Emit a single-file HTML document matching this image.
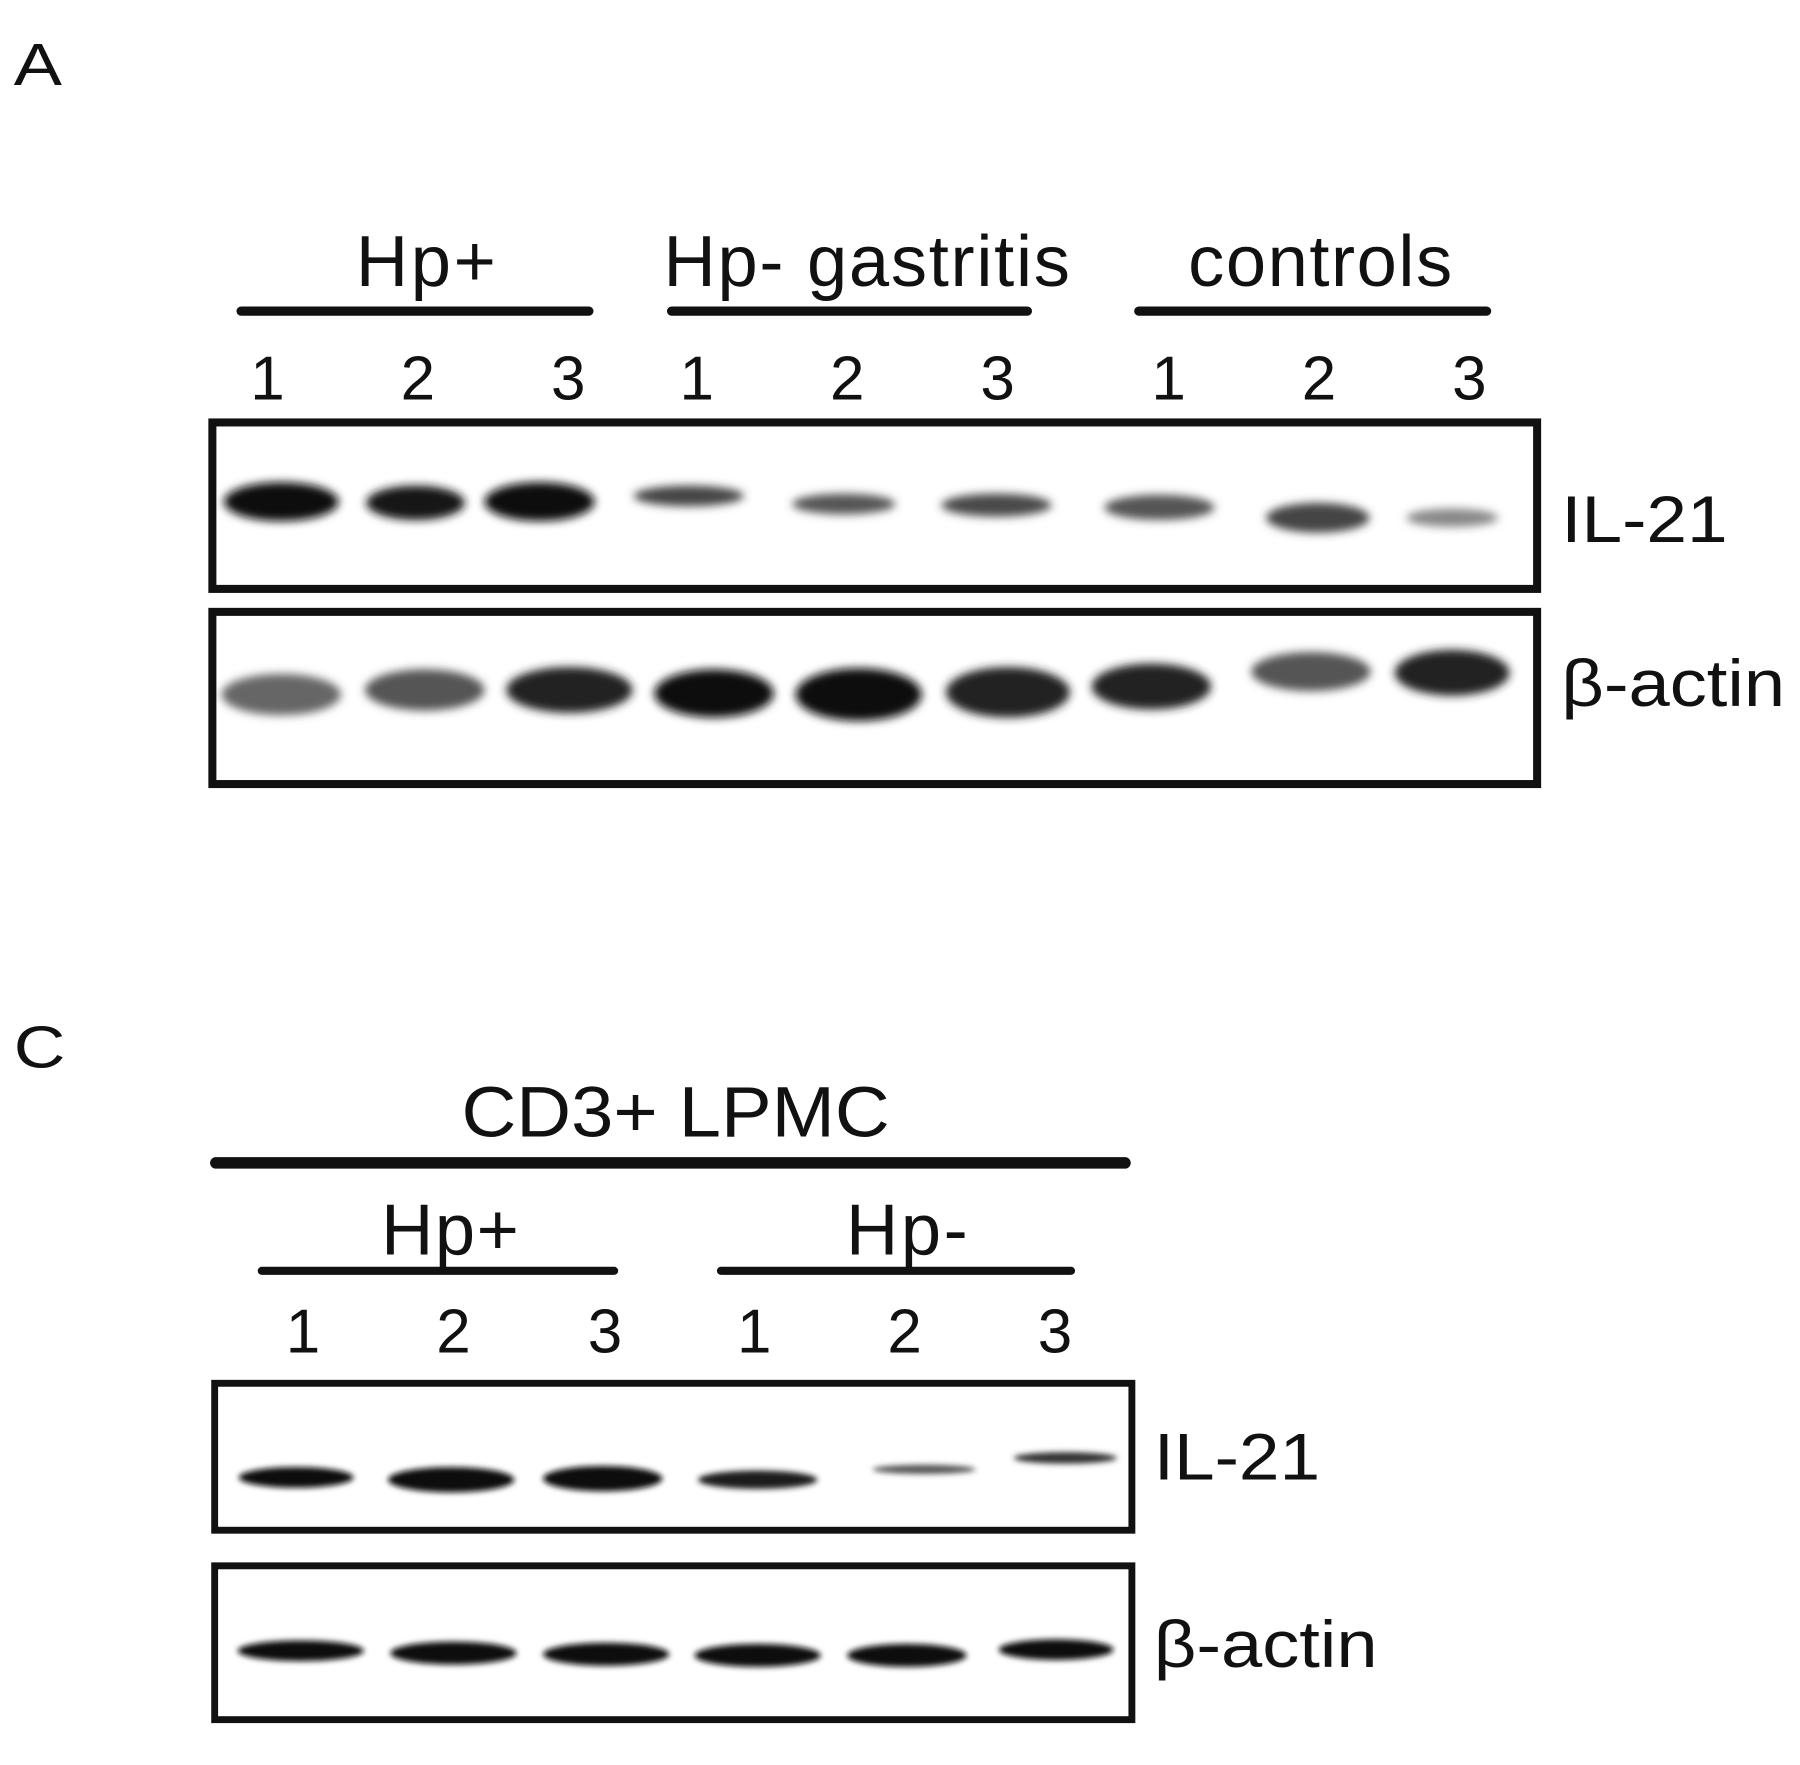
<!DOCTYPE html>
<html><head><meta charset="utf-8"><style>
html,body{margin:0;padding:0;background:#fff;}
svg{display:block;}
text{font-family:"Liberation Sans",Arial,sans-serif;fill:#111;}
</style></head><body>
<svg width="1800" height="1765" viewBox="0 0 1568 1537.5" preserveAspectRatio="none" xmlns="http://www.w3.org/2000/svg">
<defs>
<filter id="b" x="-20%" y="-80%" width="140%" height="260%"><feGaussianBlur stdDeviation="4"/></filter>
<filter id="b2" x="-20%" y="-80%" width="140%" height="260%"><feGaussianBlur stdDeviation="2.5"/></filter>
</defs>
<rect width="1568" height="1537.5" fill="#fff"/>
<text x="12" y="74" font-size="52" textLength="42" lengthAdjust="spacingAndGlyphs">A</text>
<g font-size="63" lengthAdjust="spacingAndGlyphs">
<text x="310" y="249" textLength="122">Hp+</text>
<text x="578" y="249" textLength="354">Hp- gastritis</text>
<text x="1035" y="249" textLength="230">controls</text>
</g>
<g stroke="#111" stroke-width="8" stroke-linecap="round">
<line x1="210" y1="271" x2="513" y2="271"/>
<line x1="585" y1="271" x2="895" y2="271"/>
<line x1="992" y1="271" x2="1295" y2="271"/>
</g>
<g font-size="54" text-anchor="middle">
<text x="233" y="348">1</text><text x="364" y="348">2</text><text x="495" y="348">3</text>
<text x="607" y="348">1</text><text x="738" y="348">2</text><text x="869" y="348">3</text>
<text x="1018" y="348">1</text><text x="1149" y="348">2</text><text x="1280" y="348">3</text>
</g>
<g filter="url(#b)">
<ellipse cx="245" cy="437" rx="50" ry="17" fill="#111"/>
<ellipse cx="362" cy="438" rx="43" ry="15" fill="#151515"/>
<ellipse cx="470" cy="437" rx="48" ry="17" fill="#111"/>
<ellipse cx="600" cy="432" rx="48" ry="9" fill="#444"/>
<ellipse cx="735" cy="439" rx="45" ry="9" fill="#555"/>
<ellipse cx="868" cy="440" rx="48" ry="10" fill="#4a4a4a"/>
<ellipse cx="1010" cy="442" rx="48" ry="11" fill="#555"/>
<ellipse cx="1148" cy="451" rx="45" ry="13" fill="#444"/>
<ellipse cx="1265" cy="451" rx="40" ry="8" fill="#888"/>
<ellipse cx="245" cy="605" rx="52" ry="18" fill="#666"/>
<ellipse cx="370" cy="601" rx="52" ry="18" fill="#555"/>
<ellipse cx="496" cy="601" rx="55" ry="20" fill="#222"/>
<ellipse cx="622" cy="604" rx="52" ry="21" fill="#111"/>
<ellipse cx="748" cy="605" rx="55" ry="23" fill="#111"/>
<ellipse cx="878" cy="603" rx="54" ry="22" fill="#222"/>
<ellipse cx="1003" cy="598" rx="52" ry="20" fill="#222"/>
<ellipse cx="1142" cy="585" rx="52" ry="17" fill="#555"/>
<ellipse cx="1265" cy="586" rx="50" ry="20" fill="#222"/>
</g>
<rect x="185" y="368" width="1154" height="145" fill="none" stroke="#111" stroke-width="7"/>
<rect x="185" y="533" width="1154" height="150" fill="none" stroke="#111" stroke-width="7"/>
<text x="1360" y="472" font-size="57" textLength="145" lengthAdjust="spacingAndGlyphs">IL-21</text>
<text x="1360" y="615" font-size="57" textLength="195" lengthAdjust="spacingAndGlyphs">β-actin</text>

<text x="12" y="930" font-size="52" textLength="45" lengthAdjust="spacingAndGlyphs">C</text>
<text x="402" y="990" font-size="62" textLength="373" lengthAdjust="spacingAndGlyphs">CD3+ LPMC</text>
<line x1="188" y1="1013" x2="980" y2="1013" stroke="#111" stroke-width="10" stroke-linecap="round"/>
<g font-size="63" lengthAdjust="spacingAndGlyphs">
<text x="332" y="1093" textLength="120">Hp+</text>
<text x="737" y="1093" textLength="106">Hp-</text>
</g>
<g stroke="#111" stroke-width="7" stroke-linecap="round">
<line x1="228" y1="1107" x2="535" y2="1107"/>
<line x1="628" y1="1107" x2="933" y2="1107"/>
</g>
<g font-size="54" text-anchor="middle">
<text x="264" y="1178">1</text><text x="395" y="1178">2</text><text x="527" y="1178">3</text>
<text x="657" y="1178">1</text><text x="788" y="1178">2</text><text x="919" y="1178">3</text>
</g>
<g filter="url(#b2)">
<ellipse cx="258" cy="1287" rx="50" ry="9" fill="#111"/>
<ellipse cx="393" cy="1289" rx="55" ry="11" fill="#111"/>
<ellipse cx="525" cy="1288" rx="52" ry="11" fill="#111"/>
<ellipse cx="660" cy="1289" rx="52" ry="8" fill="#1a1a1a"/>
<ellipse cx="805" cy="1280" rx="45" ry="4" fill="#555"/>
<ellipse cx="928" cy="1270" rx="45" ry="5" fill="#333"/>
<ellipse cx="262" cy="1438" rx="55" ry="9" fill="#111"/>
<ellipse cx="395" cy="1440" rx="55" ry="10" fill="#111"/>
<ellipse cx="528" cy="1441" rx="55" ry="10" fill="#111"/>
<ellipse cx="660" cy="1442" rx="55" ry="10" fill="#111"/>
<ellipse cx="790" cy="1442" rx="52" ry="10" fill="#111"/>
<ellipse cx="920" cy="1437" rx="50" ry="9" fill="#111"/>
</g>
<rect x="187" y="1205" width="799" height="128" fill="none" stroke="#111" stroke-width="6"/>
<rect x="187" y="1364" width="799" height="134" fill="none" stroke="#111" stroke-width="6"/>
<text x="1005" y="1289" font-size="57" textLength="145" lengthAdjust="spacingAndGlyphs">IL-21</text>
<text x="1005" y="1452" font-size="57" textLength="195" lengthAdjust="spacingAndGlyphs">β-actin</text>
</svg>
</body></html>
